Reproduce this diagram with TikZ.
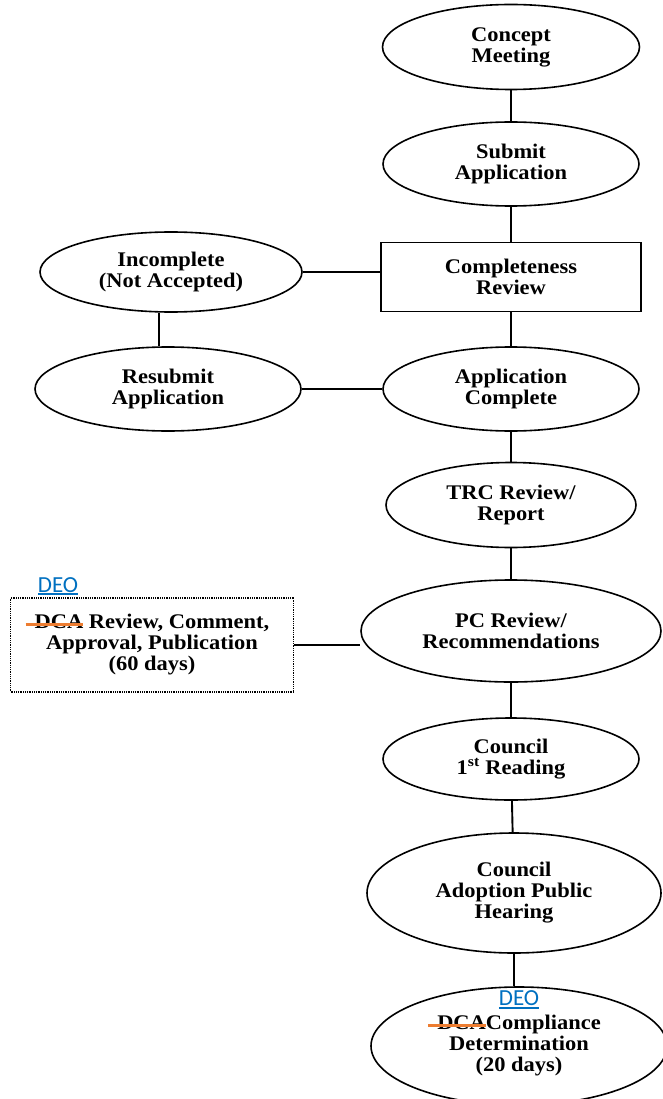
\documentclass[tikz,border=0pt]{standalone}
\usepackage{fontspec}
\setmainfont{Liberation Serif}[FakeStretch=1.08]
\newfontfamily\deofont{Carlito}
\usepackage{tikz}
\usetikzlibrary{positioning,shapes.geometric}
\definecolor{deoblue}{RGB}{0,112,192}
\definecolor{strikeorange}{RGB}{237,125,49}
\newcommand\dcasout[1]{\setbox0\hbox{#1}\copy0\llap{\textcolor{strikeorange}{\rule[0.3ex]{\dimexpr\wd0+9pt\relax}{2.8pt}}}}
\newcommand\deomark{{\deofont\mdseries\fontsize{23}{24}\selectfont\color{deoblue}\setbox0\hbox{DEO}\copy0\llap{\rule[-3pt]{\wd0}{1.6pt}}}}

\begin{document}
\begin{tikzpicture}[%
    x=1pt, y=1pt,
    node distance=117pt,
    align=center,
    font=\fontsize{20.8}{21}\selectfont\bfseries,
    stage/.style={%
      ellipse,
      draw,
      line width=1.6pt,
      inner sep=0pt,
      minimum width=256pt,
      minimum height=84pt
    },
    checkbox/.style={rectangle, draw, line width=1.6pt, minimum width=260pt, minimum height=69pt},
    agencybox/.style={rectangle, draw, line width=1.5pt, dash pattern=on 1pt off 0.8pt, minimum width=283pt, minimum height=94pt},
    link/.style={line width=1.9pt},
    deotag/.style={inner sep=0pt}
  ]
    \useasboundingbox (0,0) rectangle (662,-1099);

    \node[stage, minimum width=257pt, minimum height=85pt] (concept) at (511,-47) {Concept\\Meeting};

    \node[stage] (submit) [below of=concept] {Submit\\Application};

    \node[checkbox, node distance=113pt] (complete) [below of=submit] {Completeness\\Review};

    \node[stage, node distance=112pt] (appok) [below of=complete] {Application\\Complete};

    \node[stage, minimum width=250pt, minimum height=85pt, node distance=116pt] (trc) [below of=appok] {TRC Review/\\Report};

    \node[stage, minimum width=300pt, minimum height=102pt, node distance=126pt] (pc) [below of=trc] {PC Review/\\Recommendations};

    \node[stage, minimum height=82pt, node distance=128pt] (reading) [below of=pc] {Council\\1\textsuperscript{st} Reading};

    \node[stage, minimum width=294pt, minimum height=120pt, node distance=134pt, xshift=3pt] (hearing) [below of=reading] {Council\\Adoption Public\\Hearing};

    \node[stage, minimum width=296pt, minimum height=118pt, node distance=153pt, xshift=5pt] (compliance) [below of=hearing] {\dcasout{DCA}Compliance\\Determination\\(20 days)};

    \node[stage, minimum width=262pt, minimum height=80pt, node distance=340pt, yshift=5pt] (incomplete) [left of=complete] {Incomplete\\(Not Accepted)};

    \node[stage, minimum width=266pt, node distance=343pt] (resubmit) [left of=appok] {Resubmit\\Application};

    \node[agencybox, node distance=359pt, yshift=-14pt] (dca) [left of=pc] {\dcasout{DCA} Review, Comment,\\Approval, Publication\\(60 days)};

    % DEO corrections
    \node[deotag, above right=2pt and 28pt of dca.north west] (deo1) {\deomark};
    \node[deotag] (deo2) at ([yshift=46pt]compliance.center) {\deomark};

    \draw[link] (concept) -- (submit);
    \draw[link] (submit) -- (complete);
    \draw[link] (complete) -- (appok);
    \draw[link] (appok) -- (trc);
    \draw[link] (trc) -- (pc);
    \draw[link] (pc) -- (reading);
    \draw[link] (reading) -- (hearing);
    \draw[link] (hearing) -- (hearing |- compliance.north);

    \draw[link] (incomplete.east) -- (incomplete.east -| complete.west);
    \draw[link] ([xshift=-12pt]incomplete.south) -- ([xshift=-12pt]incomplete.south |- resubmit.north);
    \draw[link] (resubmit) -- (appok);
    \draw[link] (dca.east) -- (dca.east -| pc.west);
  \end{tikzpicture}
\end{document}
